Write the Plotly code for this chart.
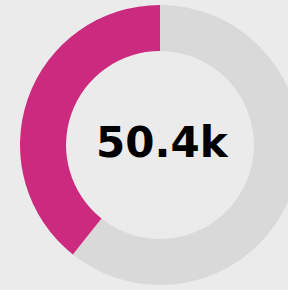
import plotly.graph_objects as go

labels = ["Remainder", "Value"]
values = [60.7, 39.3]
colors = ["#d9d9d9", "#cb2a7f"]
center_text = "50.4k"

fig = go.Figure(go.Pie(
    labels=labels,
    values=values,
    hole=0.671,
    sort=False,
    direction="clockwise",
    rotation=0,
    marker=dict(colors=colors, line=dict(width=0)),
    textinfo="none",
    hoverinfo="none",
    showlegend=False,
    domain=dict(x=[20 / 300, 1], y=[5 / 290, 285 / 290]),
))

fig.add_annotation(
    text="<b>" + center_text + "</b>",
    x=(20 / 300 + 1) / 2, y=0.5, xref="paper", yref="paper",
    xanchor="center", yanchor="middle", showarrow=False,
    xshift=2, yshift=3,
    font=dict(family="DejaVu Sans", size=42, color="#000000"),
)

fig.update_layout(
    width=300, height=290,
    margin=dict(l=0, r=0, t=0, b=0),
    paper_bgcolor="#ebebeb",
    plot_bgcolor="#ebebeb",
)

fig.write_html(
    "out.html",
    config={"displayModeBar": False},
    post_script="document.body.style.margin='0';document.body.style.overflow='hidden';document.body.style.background='#ebebeb';",
)
